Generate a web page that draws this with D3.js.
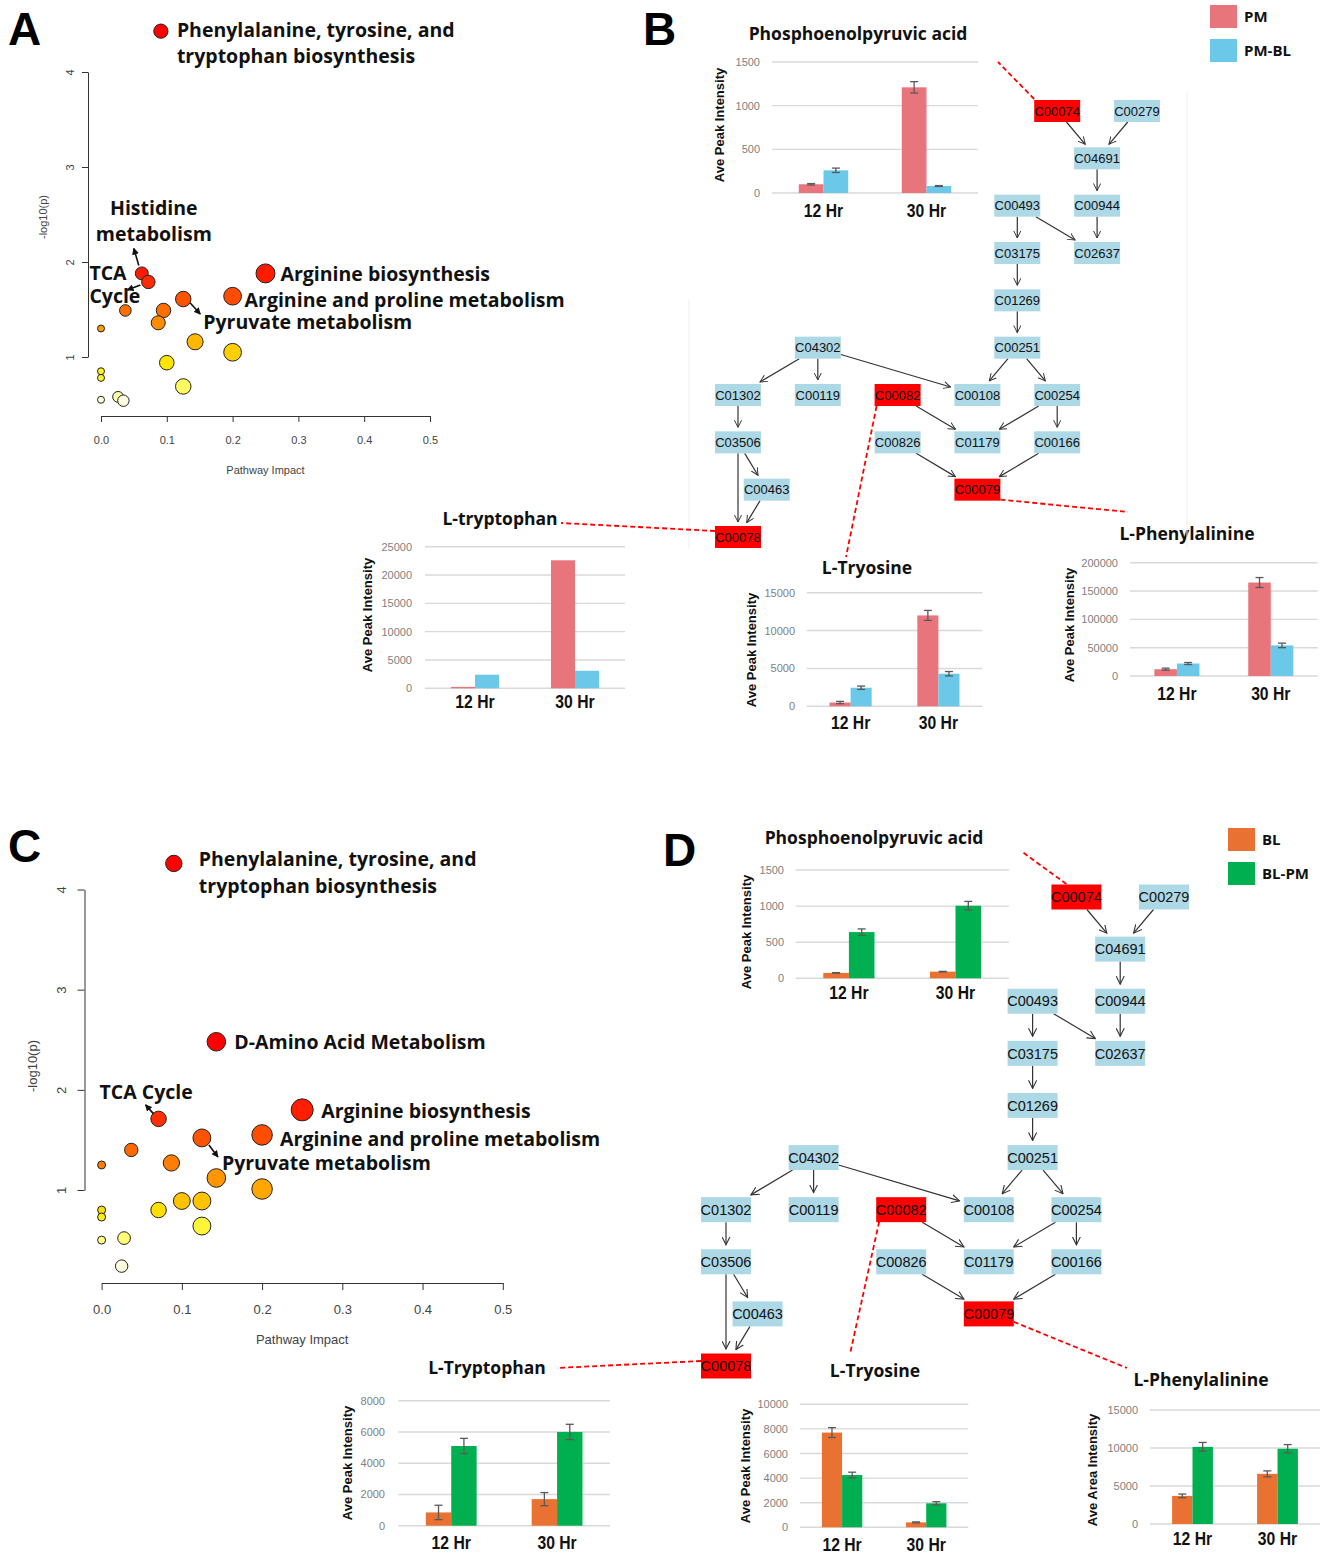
<!DOCTYPE html>
<html lang="en">
<head>
<meta charset="UTF-8">
<title>Pathway impact and intermediate metabolites</title>
<script src="https://d3js.org/d3.v7.min.js"></script>
<style>
  body { margin: 0; background: #fff; }
  svg { display: block; font-family: "Liberation Sans", Arial, sans-serif; }
  .note { font-family: "Open Sans", sans-serif; font-weight: 700; font-size: 19.5px; fill: #111; }
  .ptitle { font-family: "Open Sans", sans-serif; font-weight: 700; font-size: 17.5px; fill: #111; }
  .letter { font-family: "Liberation Sans", Arial, sans-serif; font-weight: 700; font-size: 46px; fill: #000; }
  .ylab { font-weight: 700; font-size: 13px; fill: #111; }
  .xcat { font-family: "Liberation Sans", Arial, sans-serif; font-weight: 700; font-size: 18.5px; fill: #111; }
  .leg { font-family: "Open Sans", sans-serif; font-weight: 700; font-size: 15px; fill: #111; }
  .node { font-family: "Liberation Sans", Arial, sans-serif; fill: #111; }
</style>
</head>
<body>
<svg id="fig" width="1325" height="1558"></svg>
<script>
// ---------------- data ----------------
// pathway topology (MetaboAnalyst output), panel A = PM vs PM-BL, panel C = BL vs BL-PM
const impactA = [0.091, 0.062, 0.072, 0.25, 0.20, 0.125, 0.037, 0.095, 0.087, 0, 0.143, 0.20, 0.10, 0, 0, 0.125, 0, 0.026, 0.034];
const logpA   = [4.43, 1.88, 1.79, 1.88, 1.64, 1.61, 1.49, 1.49, 1.36, 1.30, 1.16, 1.05, 0.94, 0.85, 0.78, 0.69, 0.55, 0.58, 0.54];

const impactC = [0.09, 0.143, 0.071, 0.25, 0.20, 0.125, 0.037, 0, 0.087, 0.143, 0.20, 0.10, 0.125, 0.071, 0, 0, 0.125, 0, 0.028, 0.025];
const logpC   = [4.26, 2.48, 1.71, 1.80, 1.55, 1.52, 1.40, 1.25, 1.27, 1.12, 1.01, 0.89, 0.89, 0.80, 0.80, 0.73, 0.64, 0.50, 0.52, 0.24];

const impactTicks = [0, 0.1, 0.2, 0.3, 0.4, 0.5];
const logpTicks = [1, 2, 3, 4];

// bar charts: values[series][time]
const times = ["12 Hr", "30 Hr"];
const seriesB = ["PM", "PM-BL"];
const seriesD = ["BL", "BL-PM"];

const pepB = [[100, 1210], [260, 80]];
const pepBErr = [[8, 65], [25, 5]];
const trpB = [[250, 22600], [2400, 3100]];
const tyrB = [[500, 12000], [2450, 4300]];
const tyrBErr = [[150, 660], [220, 290]];
const pheB = [[12000, 165000], [22000, 54000]];
const pheBErr = [[1800, 8800], [1800, 4000]];

const pepD = [[75, 92], [640, 1005]];
const pepDErr = [[4, 4], [44, 60]];
const trpD = [[850, 1700], [5100, 6000]];
const trpDErr = [[460, 420], [490, 490]];
const tyrD = [[7700, 400], [4250, 1950]];
const tyrDErr = [[400, 40], [230, 130]];
const pheD = [[3700, 6600], [10150, 9900]];
const pheDErr = [[240, 390], [580, 550]];

// KEGG compounds in the phenylalanine/tyrosine/tryptophan pathway
const nodeIds = ["C00074", "C00279", "C04691", "C00493", "C00944", "C03175", "C02637", "C01269",
  "C00251", "C04302", "C01302", "C00119", "C00082", "C00108", "C00254", "C03506", "C00826",
  "C01179", "C00166", "C00463", "C00079", "C00078"];
const hitIds = ["C00074", "C00082", "C00079", "C00078"];
const edges = [
  ["C00074", "C04691"], ["C00279", "C04691"], ["C04691", "C00944"], ["C00493", "C03175"],
  ["C00493", "C02637"], ["C00944", "C02637"], ["C03175", "C01269"], ["C01269", "C00251"],
  ["C00251", "C00108"], ["C00251", "C00254"], ["C04302", "C01302"], ["C04302", "C00119"],
  ["C04302", "C00108"], ["C00254", "C01179"], ["C00254", "C00166"], ["C00082", "C01179"],
  ["C01302", "C03506"], ["C03506", "C00463"], ["C03506", "C00078"], ["C00463", "C00078"],
  ["C00826", "C00079"], ["C00166", "C00079"]
];
// layout grid of the pathway drawing: [column, row]
const nodeGrid = {
  C00074: [4, 0], C00279: [5, 0], C04691: [4.5, 1], C00493: [3.5, 2], C00944: [4.5, 2],
  C03175: [3.5, 3], C02637: [4.5, 3], C01269: [3.5, 4], C00251: [3.5, 5], C04302: [1, 5],
  C01302: [0, 6], C00119: [1, 6], C00082: [2, 6], C00108: [3, 6], C00254: [4, 6],
  C03506: [0, 7], C00826: [2, 7], C01179: [3, 7], C00166: [4, 7], C00463: [0.36, 8],
  C00079: [3, 8], C00078: [0, 9]
};

const heatColors = ["#FFFFE0", "#FFFF80", "#FFEE00", "#FFB000", "#FF6000", "#FF1E00", "#FF0000"];

const svg = d3.select("#fig");
const defs = svg.append("defs");
defs.append("marker").attr("id", "tri").attr("viewBox", "0 0 8 8")
  .attr("refX", 7).attr("refY", 4).attr("markerWidth", 7).attr("markerHeight", 7)
  .attr("markerUnits", "userSpaceOnUse").attr("orient", "auto")
  .append("path").attr("d", "M0,0 L8,4 L0,8 z").attr("fill", "#111");

// ---------------- scatter (pathway impact) ----------------
function drawScatter(s) {
  const g = svg.append("g");
  const x = d3.scaleLinear().domain([0, 0.5]).range(s.xr);
  const y = d3.scaleLinear().domain([1, 4]).range(s.yr);
  const r = d3.scaleSqrt().domain([0, 0.25]).range(s.rr);
  const heat = d3.scaleLinear().domain(s.heat).range(heatColors).clamp(true);

  const xa = g.append("g").attr("transform", `translate(0,${s.xAxisY})`)
    .call(d3.axisBottom(x).tickValues(impactTicks).tickFormat(d3.format(".1f"))
      .tickSize(s.tick).tickSizeOuter(0).tickPadding(s.xPad));
  const ya = g.append("g").attr("transform", `translate(${s.yAxisX},0)`)
    .call(d3.axisLeft(y).tickValues(logpTicks).tickFormat(d3.format("d"))
      .tickSize(s.tick).tickSizeOuter(0));
  ya.selectAll("text").attr("x", null).attr("dy", null).attr("text-anchor", "middle")
    .attr("transform", `translate(${-s.yPad},0) rotate(-90)`);
  [xa, ya].forEach(a => {
    a.attr("font-family", null).attr("font-size", null);
    a.selectAll("path,line").attr("stroke", "#333");
    a.selectAll("text").attr("fill", "#444").style("font-size", s.font + "px");
  });

  g.append("text").attr("x", (s.xr[0] + s.xr[1]) / 2).attr("y", s.xTitleY)
    .attr("text-anchor", "middle").attr("fill", "#444").style("font-size", s.font + "px")
    .text("Pathway Impact");
  g.append("text").attr("transform", `translate(${s.yTitleX},${s.yTitleY}) rotate(-90)`)
    .attr("text-anchor", "middle").attr("fill", "#444").style("font-size", s.font + "px")
    .text("-log10(p)");

  const pts = s.impact.map((v, i) => ({ ix: v, lp: s.logp[i] }));
  g.selectAll("circle").data(pts).join("circle")
    .attr("cx", d => x(d.ix)).attr("cy", d => y(d.lp)).attr("r", d => r(d.ix))
    .attr("fill", d => heat(d.lp)).attr("stroke", "#222").attr("stroke-width", 1);

  s.notes.forEach(n => {
    const px = x(pts[n.i].ix), py = y(pts[n.i].lp);
    const t = g.append("text").attr("class", "note")
      .attr("text-anchor", n.anchor || "start");
    n.lines.forEach((l, k) => t.append("tspan")
      .attr("x", px + n.dx).attr("y", py + n.dy + k * (n.lh || 26)).text(l));
    if (n.arrow) {
      g.append("line")
        .attr("x1", px + n.arrow[0][0]).attr("y1", py + n.arrow[0][1])
        .attr("x2", px + n.arrow[1][0]).attr("y2", py + n.arrow[1][1])
        .attr("stroke", "#111").attr("stroke-width", 1.6).attr("marker-end", "url(#tri)");
    }
  });
}

drawScatter({
  impact: impactA, logp: logpA,
  xr: [101, 430], yr: [357, 72], rr: [3.5, 9.5],
  heat: [0.54, 0.62, 0.9, 1.2, 1.55, 1.85, 2.2],
  xAxisY: 416, yAxisX: 88, tick: 6, xPad: 14, yPad: 14, font: 11,
  xTitleY: 474, yTitleX: 47, yTitleY: 217,
  notes: [
    { i: 0, lines: ["Phenylalanine, tyrosine, and", "tryptophan biosynthesis"], dx: 16, dy: 6 },
    { i: 1, lines: ["Histidine", "metabolism"], dx: 12, dy: -58, anchor: "middle", arrow: [[-3, -8], [-8, -25]] },
    { i: 2, lines: ["TCA", "Cycle"], dx: -59, dy: -2, lh: 23, arrow: [[-8, 3], [-21, 8]] },
    { i: 3, lines: ["Arginine biosynthesis"], dx: 15, dy: 8 },
    { i: 4, lines: ["Arginine and proline metabolism"], dx: 12, dy: 11 },
    { i: 5, lines: ["Pyruvate metabolism"], dx: 20, dy: 30, arrow: [[7, 4], [17, 15]] }
  ]
});

drawScatter({
  impact: impactC, logp: logpC,
  xr: [101.6, 502.8], yr: [1190, 889.5], rr: [4, 11],
  heat: [0.24, 0.5, 0.75, 0.95, 1.45, 1.8, 2.4],
  xAxisY: 1283, yAxisX: 84.5, tick: 7, xPad: 15, yPad: 18.5, font: 13,
  xTitleY: 1344, yTitleX: 37, yTitleY: 1066,
  notes: [
    { i: 0, lines: ["Phenylalanine, tyrosine, and", "tryptophan biosynthesis"], dx: 25, dy: 3, lh: 27 },
    { i: 1, lines: ["D-Amino Acid Metabolism"], dx: 18, dy: 7 },
    { i: 2, lines: ["TCA Cycle"], dx: -59, dy: -20, arrow: [[-5, -5], [-13, -14]] },
    { i: 3, lines: ["Arginine biosynthesis"], dx: 19, dy: 8 },
    { i: 4, lines: ["Arginine and proline metabolism"], dx: 18, dy: 11 },
    { i: 5, lines: ["Pyruvate metabolism"], dx: 20, dy: 32, arrow: [[7, 7], [16, 19]] }
  ]
});

// ---------------- grouped bar charts ----------------
function drawBars(s) {
  const g = svg.append("g");
  const x0 = d3.scaleBand().domain(times).range(s.xr);
  const bw = x0.bandwidth();
  const x1 = d3.scaleBand().domain(s.series).range([-0.24 * bw, 0.24 * bw]);
  const y = d3.scaleLinear().domain([0, s.max]).range(s.yr);
  const ticks = d3.range(0, s.max + 1, s.step);

  g.selectAll(".grid").data(ticks).join("line")
    .attr("x1", s.xr[0]).attr("x2", s.xr[1])
    .attr("y1", d => y(d)).attr("y2", d => y(d))
    .attr("stroke", "#d9d9d9").attr("stroke-width", 1.4);

  const ax = g.append("g").attr("transform", `translate(${s.tickX},0)`)
    .call(d3.axisLeft(y).tickValues(ticks).tickSize(0).tickPadding(0).tickFormat(d3.format("d")));
  ax.select(".domain").remove();
  ax.attr("font-family", null).attr("font-size", null);
  ax.selectAll("text").attr("fill", "#7f7f7f").style("font-size", "11px");

  const cells = [];
  s.series.forEach((sr, si) => times.forEach((t, ti) =>
    cells.push({ t, sr, si, v: s.values[si][ti], e: s.err ? s.err[si][ti] : null })));

  g.selectAll(".bar").data(cells).join("rect")
    .attr("x", d => x0(d.t) + bw / 2 + x1(d.sr))
    .attr("width", x1.bandwidth())
    .attr("y", d => y(d.v)).attr("height", d => y(0) - y(d.v))
    .attr("fill", d => s.colors[d.si]);

  const eb = g.selectAll(".err").data(cells.filter(d => d.e !== null)).join("g")
    .attr("stroke", "#595959").attr("stroke-width", 1.3);
  const cx = d => x0(d.t) + bw / 2 + x1(d.sr) + x1.bandwidth() / 2;
  eb.append("line").attr("x1", cx).attr("x2", cx)
    .attr("y1", d => y(d.v - d.e)).attr("y2", d => y(d.v + d.e));
  eb.append("line").attr("x1", d => cx(d) - 4).attr("x2", d => cx(d) + 4)
    .attr("y1", d => y(d.v + d.e)).attr("y2", d => y(d.v + d.e));
  eb.append("line").attr("x1", d => cx(d) - 4).attr("x2", d => cx(d) + 4)
    .attr("y1", d => y(d.v - d.e)).attr("y2", d => y(d.v - d.e));

  // condensed bold category labels
  g.selectAll(".xcat").data(times).join("text").attr("class", "xcat")
    .attr("transform", d => `translate(${x0(d) + bw / 2},${s.catY}) scale(0.85,1)`)
    .attr("text-anchor", "middle").text(d => d);

  g.append("text").attr("class", "ptitle").attr("x", s.title[1]).attr("y", s.title[2])
    .attr("text-anchor", "middle").text(s.title[0]);
  g.append("text").attr("class", "ylab")
    .attr("transform", `translate(${s.ylab[1]},${s.ylab[2]}) rotate(-90)`)
    .attr("text-anchor", "middle").text(s.ylab[0]);
}

const colB = ["#E8747C", "#6CC8E8"];
const colD = ["#E97132", "#00B050"];

drawBars({ series: seriesB, colors: colB, values: pepB, err: pepBErr, max: 1500, step: 500,
  xr: [772, 978], yr: [193, 62], tickX: 760, catY: 217,
  title: ["Phosphoenolpyruvic acid", 858, 40], ylab: ["Ave Peak Intensity", 724, 125] });
drawBars({ series: seriesB, colors: colB, values: trpB, err: null, max: 25000, step: 5000,
  xr: [425, 625], yr: [688.3, 546.7], tickX: 412, catY: 708,
  title: ["L-tryptophan", 500, 525], ylab: ["Ave Peak Intensity", 372, 615] });
drawBars({ series: seriesB, colors: colB, values: tyrB, err: tyrBErr, max: 15000, step: 5000,
  xr: [806.7, 982.3], yr: [706.3, 592.7], tickX: 795, catY: 729,
  title: ["L-Tryosine", 867, 574], ylab: ["Ave Peak Intensity", 756, 650] });
drawBars({ series: seriesB, colors: colB, values: pheB, err: pheBErr, max: 200000, step: 50000,
  xr: [1130, 1317.7], yr: [676, 562.7], tickX: 1118, catY: 700,
  title: ["L-Phenylalinine", 1187, 540], ylab: ["Ave Peak Intensity", 1074, 625] });

drawBars({ series: seriesD, colors: colD, values: pepD, err: pepDErr, max: 1500, step: 500,
  xr: [795.6, 1008.8], yr: [978.3, 870], tickX: 784, catY: 999,
  title: ["Phosphoenolpyruvic acid", 874, 844], ylab: ["Ave Peak Intensity", 751, 932] });
drawBars({ series: seriesD, colors: colD, values: trpD, err: trpDErr, max: 8000, step: 2000,
  xr: [398.3, 610], yr: [1525.7, 1400.7], tickX: 385, catY: 1549,
  title: ["L-Tryptophan", 487, 1374], ylab: ["Ave Peak Intensity", 352, 1463] });
drawBars({ series: seriesD, colors: colD, values: tyrD, err: tyrDErr, max: 10000, step: 2000,
  xr: [800, 968.3], yr: [1527.3, 1404.3], tickX: 788, catY: 1551,
  title: ["L-Tryosine", 875, 1377], ylab: ["Ave Peak Intensity", 750, 1466] });
drawBars({ series: seriesD, colors: colD, values: pheD, err: pheDErr, max: 15000, step: 5000,
  xr: [1150, 1320], yr: [1524, 1410], tickX: 1138, catY: 1545,
  title: ["L-Phenylalinine", 1201, 1386], ylab: ["Ave Area Intensity", 1097, 1470] });

// ---------------- pathway graphs ----------------
function drawPathway(s) {
  const g = svg.append("g");
  const cx = d3.scaleLinear().domain([0, 5]).range(s.colRange);
  const cy = d3.scaleLinear().domain([0, 9]).range(s.rowRange);
  const hw = s.box[0] / 2, hh = s.box[1] / 2;
  const pos = id => [cx(nodeGrid[id][0]), cy(nodeGrid[id][1])];

  const mk = "head" + s.key;
  defs.append("marker").attr("id", mk).attr("viewBox", "0 0 10 10")
    .attr("refX", 9).attr("refY", 5).attr("markerWidth", s.head).attr("markerHeight", s.head)
    .attr("markerUnits", "userSpaceOnUse").attr("orient", "auto")
    .append("path").attr("d", "M0,0.5 L9,5 L0,9.5").attr("fill", "none")
    .attr("stroke", "#333").attr("stroke-width", 1.2);

  // faint edges of the pasted pathway image
  (s.frame || []).forEach(f => g.append("line")
    .attr("x1", f[0]).attr("x2", f[0]).attr("y1", f[1]).attr("y2", f[2])
    .attr("stroke", "#ededed").attr("stroke-width", 1));

  // red dashed links from hit compounds to their bar charts
  s.links.forEach(l => {
    const p = pos(l[0]);
    g.append("line").attr("x1", p[0] + l[1]).attr("y1", p[1] + l[2])
      .attr("x2", l[3]).attr("y2", l[4])
      .attr("stroke", "#FF0000").attr("stroke-width", 1.8).attr("stroke-dasharray", "5,3");
  });

  edges.forEach(([a, b]) => {
    const [sx, sy] = pos(a), [tx, ty] = pos(b);
    const dx = tx - sx, dy = ty - sy, len = Math.hypot(dx, dy);
    const t0 = Math.min(dx ? hw / Math.abs(dx) : Infinity, dy ? hh / Math.abs(dy) : Infinity);
    const t1 = 1 - t0 - s.gap / len;
    g.append("line")
      .attr("x1", sx + dx * t0).attr("y1", sy + dy * t0)
      .attr("x2", sx + dx * t1).attr("y2", sy + dy * t1)
      .attr("stroke", "#333").attr("stroke-width", 1.2).attr("marker-end", `url(#${mk})`);
  });

  const n = g.selectAll(".nd").data(nodeIds).join("g")
    .attr("transform", d => `translate(${pos(d)[0]},${pos(d)[1]})`);
  n.append("rect").attr("x", -hw).attr("y", -hh).attr("width", s.box[0]).attr("height", s.box[1])
    .attr("fill", d => hitIds.includes(d) ? "#FF0000" : "#ADD8E6");
  n.append("text").attr("class", "node").attr("text-anchor", "middle").attr("dy", "0.36em")
    .style("font-size", s.font + "px").text(d => d);
}

drawPathway({ key: "B", colRange: [738, 1137], rowRange: [111, 537], box: [46, 22], font: 13,
  gap: 4, head: 8, frame: [[1187, 92, 548], [689, 300, 548]],
  links: [["C00074", -23, -12, 998, 62], ["C00078", -23, -6, 561, 523],
          ["C00082", -21, 11, 846, 557], ["C00079", 23, 10, 1128, 512]] });
drawPathway({ key: "D", colRange: [726, 1164], rowRange: [897, 1366], box: [50, 25], font: 14.5,
  gap: 4.5, head: 9, frame: null,
  links: [["C00074", -10, -13, 1021, 851], ["C00078", -25, -5, 557, 1368],
          ["C00082", -22, 12, 850, 1354], ["C00079", 25, 8, 1127, 1368]] });

// ---------------- legends ----------------
function drawLegend(x, y0, names, colors) {
  const g = svg.append("g");
  names.forEach((nm, i) => {
    g.append("rect").attr("x", x).attr("y", y0 + i * 34).attr("width", 27).attr("height", 23)
      .attr("fill", colors[i]);
    g.append("text").attr("class", "leg").attr("x", x + 34).attr("y", y0 + i * 34 + 11.5)
      .attr("dy", "0.36em").text(nm);
  });
}
drawLegend(1210, 5, seriesB, colB);
drawLegend(1228, 828, seriesD, colD);

// ---------------- panel letters ----------------
[["A", 8, 45], ["B", 643, 45], ["C", 8, 862], ["D", 663, 866]].forEach(([t, x, y]) =>
  svg.append("text").attr("class", "letter").attr("x", x).attr("y", y).text(t));
</script>
</body>
</html>
